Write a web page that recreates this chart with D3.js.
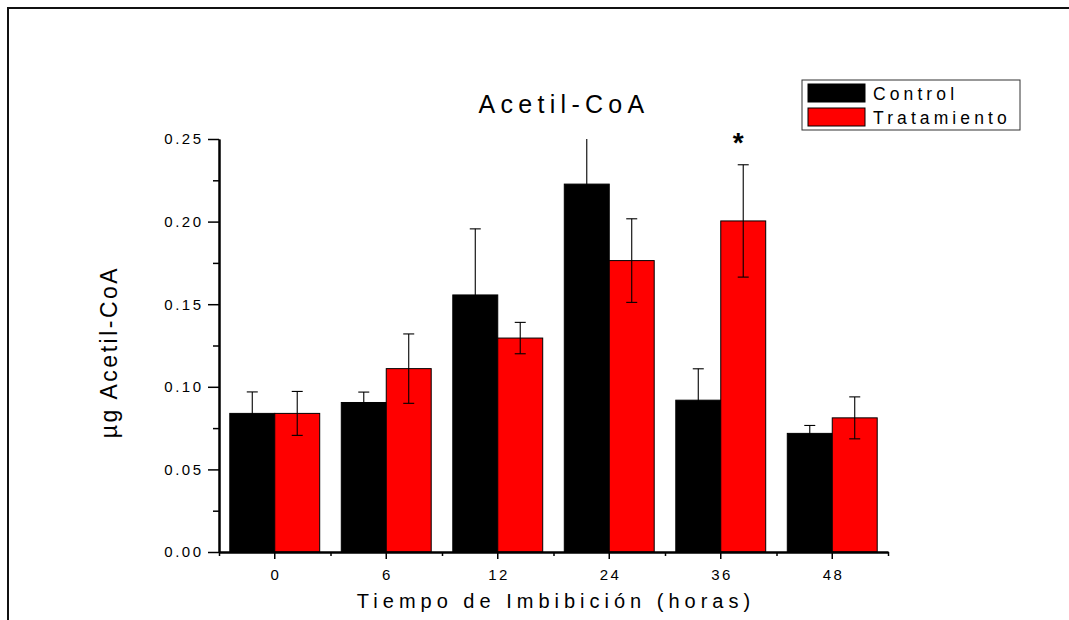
<!DOCTYPE html>
<html lang="es">
<head>
    <meta charset="UTF-8">
    <title>Acetil-CoA</title>
    <style>
        html, body { margin: 0; padding: 0; background: #fff; overflow: hidden; }
        svg { display: block; font-family: Arial, "Liberation Sans", sans-serif; }
    </style>
</head>
<body>
    <div id="chart"></div>

    <script src="https://d3js.org/d3.v7.min.js"></script>
    <script>
        // data
        const horas = ['0', '6', '12', '24', '36', '48'];
        const series = ['Control', 'Tratamiento'];
        const control = [0.0839, 0.0905, 0.1556, 0.2227, 0.0919, 0.0718];
        const controlErr = [0.0130, 0.0063, 0.0400, 0.0350, 0.0190, 0.0048];
        const tratamiento = [0.0839, 0.1110, 0.1295, 0.1764, 0.2004, 0.0812];
        const tratamientoErr = [0.0133, 0.0210, 0.0095, 0.0253, 0.0340, 0.0127];
        const yTicks = [0, 0.05, 0.10, 0.15, 0.20, 0.25];
        const yMinor = [0.025, 0.075, 0.125, 0.175, 0.225];
        const significant = ['36'];

        const w = 1069;
        const h = 620;
        const padL = 219, padR = 888, padT = 139, padB = 552;
        const colors = { Control: '#000000', Tratamiento: '#ff0000' };

        const rows = [];
        horas.forEach((hr, i) => {
            rows.push({ hr, s: 'Control', v: control[i], e: controlErr[i] });
            rows.push({ hr, s: 'Tratamiento', v: tratamiento[i], e: tratamientoErr[i] });
        });

        const svg = d3.select('#chart').append('svg')
            .attr('width', w)
            .attr('height', h);

        // outer frame: top and left edges only, the rest is cut off
        svg.append('line')
            .attr('x1', 8).attr('x2', w + 20)
            .attr('y1', 8).attr('y2', 8)
            .attr('stroke', '#111').attr('stroke-width', 2);
        svg.append('line')
            .attr('x1', 8).attr('x2', 8)
            .attr('y1', 7).attr('y2', h + 20)
            .attr('stroke', '#111').attr('stroke-width', 2);

        const x0 = d3.scaleBand().domain(horas).range([padL, padR]).padding(0);
        const x1 = d3.scaleBand().domain(series).range([0, x0.bandwidth()]).paddingOuter(0.24);
        const y = d3.scaleLinear().domain([0, 0.25]).range([padB, padT]);
        const xIdx = d3.scaleLinear().domain([0, horas.length]).range([padL, padR]);

        svg.append('clipPath').attr('id', 'plot')
            .append('rect')
            .attr('x', padL).attr('y', padT)
            .attr('width', padR - padL).attr('height', padB - padT);

        // bars
        svg.append('g').selectAll('rect')
            .data(rows)
            .enter()
            .append('rect')
            .attr('x', d => x0(d.hr) + x1(d.s))
            .attr('y', d => y(d.v))
            .attr('width', x1.bandwidth())
            .attr('height', d => y(0) - y(d.v))
            .attr('fill', d => colors[d.s])
            .attr('stroke', '#000')
            .attr('stroke-width', 1);

        // error bars
        const eb = svg.append('g')
            .attr('clip-path', 'url(#plot)')
            .attr('stroke', '#000')
            .attr('stroke-width', 1.1)
            .selectAll('g')
            .data(rows)
            .enter()
            .append('g')
            .attr('transform', d => `translate(${x0(d.hr) + x1(d.s) + x1.bandwidth() / 2},0)`);
        eb.append('line')
            .attr('y1', d => y(d.v - d.e))
            .attr('y2', d => y(d.v + d.e));
        eb.append('line')
            .attr('x1', -5.5).attr('x2', 5.5)
            .attr('y1', d => y(d.v + d.e))
            .attr('y2', d => y(d.v + d.e));
        eb.append('line')
            .attr('x1', -5.5).attr('x2', 5.5)
            .attr('y1', d => y(d.v - d.e))
            .attr('y2', d => y(d.v - d.e));

        // significance mark
        svg.append('g').selectAll('text')
            .data(rows.filter(d => d.s === 'Tratamiento' && significant.includes(d.hr)))
            .enter()
            .append('text')
            .attr('x', d => x0(d.hr) + x1(d.s) + x1.bandwidth() / 2 - 5)
            .attr('y', d => y(d.v + d.e) - 13)
            .attr('text-anchor', 'middle')
            .attr('font-size', 28)
            .attr('font-weight', 'bold')
            .text('*');

        // axes
        const yAxis = d3.axisLeft(y)
            .tickValues(yTicks)
            .tickFormat(d3.format('.2f'))
            .tickSize(11)
            .tickSizeOuter(0)
            .tickPadding(7);
        const yMinorAxis = d3.axisLeft(y).tickValues(yMinor).tickFormat('').tickSize(6).tickSizeOuter(0);
        const xAxis = d3.axisBottom(x0).tickSize(7).tickSizeOuter(0).tickPadding(10);
        const xMinorAxis = d3.axisBottom(xIdx)
            .tickValues(d3.range(horas.length + 1))
            .tickFormat('')
            .tickSize(4)
            .tickSizeOuter(0);

        const styleAxis = g => {
            g.selectAll('path').attr('stroke', '#000').attr('stroke-width', 2);
            g.selectAll('line').attr('stroke', '#000').attr('stroke-width', 1.5);
            g.selectAll('text')
                .attr('fill', '#000')
                .attr('font-family', 'Arial, "Liberation Sans", sans-serif')
                .attr('font-size', 15)
                .attr('letter-spacing', 2.5);
        };

        svg.append('g').attr('transform', `translate(${padL},0)`).call(yMinorAxis).call(styleAxis);
        svg.append('g').attr('transform', `translate(${padL},0)`).call(yAxis).call(styleAxis)
            .selectAll('text').attr('dx', 2.5);
        svg.append('g').attr('transform', `translate(0,${padB})`).call(xMinorAxis).call(styleAxis);
        svg.append('g').attr('transform', `translate(0,${padB})`).call(xAxis).call(styleAxis)
            .selectAll('text').attr('dx', 1.25);

        // titles
        svg.append('text')
            .attr('x', 564).attr('y', 113)
            .attr('text-anchor', 'middle')
            .attr('font-size', 25)
            .attr('letter-spacing', 5.3)
            .text('Acetil-CoA');

        svg.append('text')
            .attr('x', 556).attr('y', 608)
            .attr('text-anchor', 'middle')
            .attr('font-size', 20)
            .attr('letter-spacing', 5)
            .text('Tiempo de Imbibición (horas)');

        svg.append('text')
            .attr('transform', 'translate(117,352) rotate(-90)')
            .attr('text-anchor', 'middle')
            .attr('font-size', 23)
            .attr('letter-spacing', 2.5)
            .text('µg Acetil-CoA');

        // legend
        const lg = svg.append('g').attr('transform', 'translate(802,80)');
        lg.append('rect')
            .attr('width', 218).attr('height', 50)
            .attr('fill', '#fff')
            .attr('stroke', '#333')
            .attr('stroke-width', 1);
        const item = lg.selectAll('g.item')
            .data(series)
            .enter()
            .append('g')
            .attr('class', 'item')
            .attr('transform', (d, i) => `translate(6,${4 + i * 24})`);
        item.append('rect')
            .attr('width', 57).attr('height', 18)
            .attr('fill', d => colors[d])
            .attr('stroke', '#000')
            .attr('stroke-width', 1);
        item.append('text')
            .attr('x', 65).attr('y', 16)
            .attr('font-size', 17.5)
            .attr('letter-spacing', 4.1)
            .text(d => d);
    </script>
</body>
</html>
